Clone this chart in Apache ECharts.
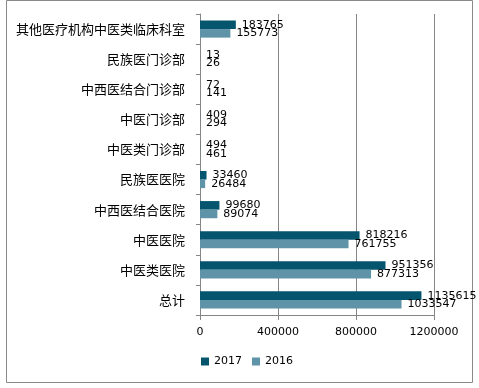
<!DOCTYPE html>
<html><head><meta charset="utf-8">
<script src="https://cdn.jsdelivr.net/npm/echarts@6/dist/echarts.min.js"></script>
<style>html,body{margin:0;padding:0;background:#fff;}#c{width:479px;height:388px;}</style>
</head><body><div id="c"></div>
<script>
// categories from bottom to top
const categories = ['总计','中医类医院','中医医院','中西医结合医院','民族医医院','中医类门诊部','中医门诊部','中西医结合门诊部','民族医门诊部','其他医疗机构中医类临床科室'];
const values2017 = [1135615, 951356, 818216, 99680, 33460, 494, 409, 72, 13, 183765];
const values2016 = [1033547, 877313, 761755, 89074, 26484, 461, 294, 141, 26, 155773];
const seriesNames = ['2017','2016'];
const xTicks = [0, 400000, 800000, 1200000];

const chart = echarts.init(document.getElementById('c'));
const labelStyle = {show:true, position:'right', distance:6, color:'#000', fontFamily:'DejaVu Sans', fontSize:11};
chart.setOption({
  animation:false,
  graphic:[{type:'rect', shape:{x:6.5,y:0.5,width:466,height:382}, style:{fill:'none', stroke:'#8a8a8a', lineWidth:1}, silent:true}],
  grid:{left:200, right:45, top:14, bottom:73},
  legend:{data:seriesNames, bottom:16, left:196, itemWidth:8, itemHeight:8, itemGap:10, icon:'rect',
    textStyle:{fontFamily:'DejaVu Sans', fontSize:11, color:'#000'}},
  xAxis:{type:'value', min:xTicks[0], max:xTicks[xTicks.length-1], interval:400000,
    axisLine:{show:true, lineStyle:{color:'#868686'}},
    axisTick:{show:true, length:5, lineStyle:{color:'#868686'}},
    splitLine:{show:true, lineStyle:{color:'#868686'}},
    axisLabel:{margin:12, color:'#000', fontFamily:'DejaVu Sans', fontSize:11, formatter:function(v){return String(v);}}},
  yAxis:{type:'category', data:categories,
    axisLine:{show:true, lineStyle:{color:'#868686'}},
    axisTick:{show:true, length:4, lineStyle:{color:'#868686'}},
    axisLabel:{margin:15, color:'#000', fontFamily:'Noto Sans CJK SC', fontSize:13}},
  series:[
    {name:'2017', type:'bar', data:values2017, itemStyle:{color:'#05556f'}, barGap:'0%', barCategoryGap:'43%', label:labelStyle},
    {name:'2016', type:'bar', data:values2016, itemStyle:{color:'#5f93a7'}, barGap:'0%', barCategoryGap:'43%', label:labelStyle}
  ]
});
</script></body></html>
